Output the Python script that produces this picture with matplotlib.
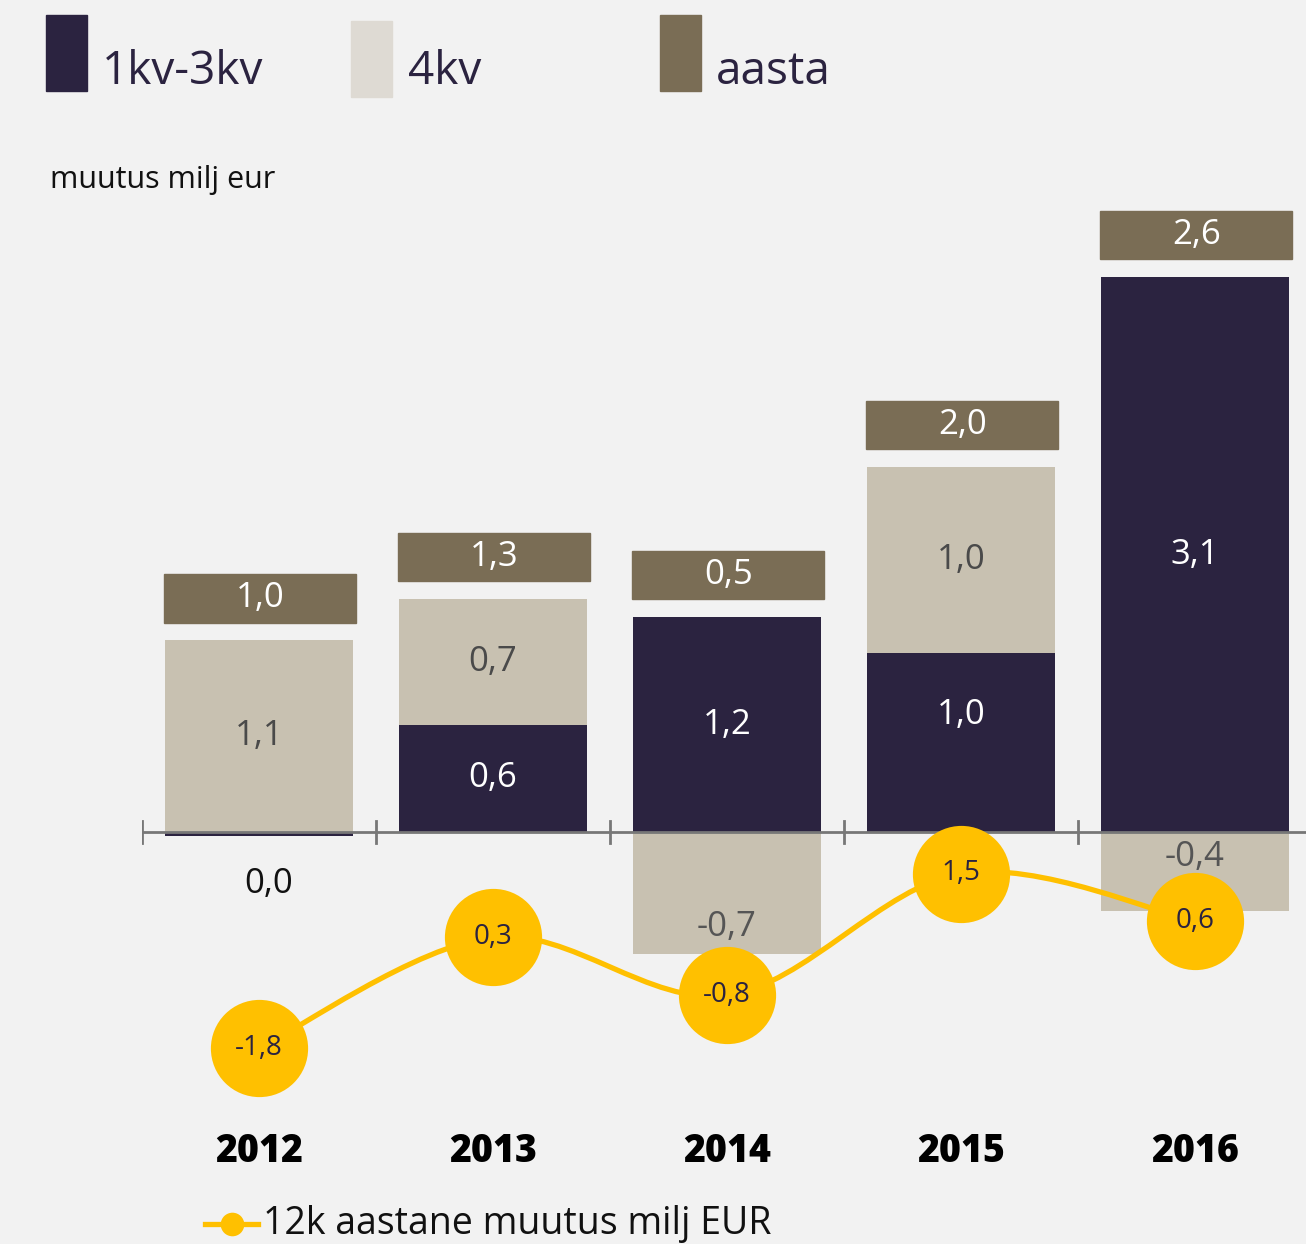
import matplotlib.pyplot as plt
from matplotlib.path import Path
from matplotlib.patches import PathPatch, Rectangle
from matplotlib.lines import Line2D

# chart data
years = ['2012', '2013', '2014', '2015', '2016']
q1_q3 = [-0.02, 0.6, 1.2, 1.0, 3.1]
q4 = [1.07, 0.7, -0.68, 1.04, -0.44]
annual = [1.0, 1.3, 0.5, 2.0, 2.6]
change_12m = [-1.8, 0.3, -0.8, 1.5, 0.6]
legend_labels = ['1kv-3kv', '4kv', 'aasta']

DARK = '#2b2340'
LIGHT = '#c8c1b1'
LIGHT_LEGEND = '#dedad3'
BROWN = '#7a6d55'
YELLOW = '#ffc000'
BG = '#f2f2f2'
AXIS = '#777777'

plt.rcParams['font.family'] = ['Open Sans', 'DejaVu Sans']

W, H = 1306, 1244
fig = plt.figure(figsize=(W / 100, H / 100), dpi=100, facecolor=BG)


def fx(px):
    return px / W


def fy(py):
    return 1 - py / H


# axes frame in pixels: x 142..1312 for categories -0.5..4.5, y 200..1100
PX = 179  # pixels per unit on the bar scale
ax = fig.add_axes([fx(142), fy(1100), fx(1312 - 142), (1100 - 200) / H])
ax.set_facecolor('none')
ax.set_xlim(-0.5, 4.5)
ax.set_ylim(-(1100 - 832) / PX, (832 - 200) / PX)
ax.axis('off')


def fmt(v):
    if round(v, 1) == 0:
        return '0,0'
    return f'{v:.1f}'.replace('.', ',')


bar_w = 0.80
x = list(range(len(years)))
q4_bottom = [d if (d > 0) == (l > 0) else 0 for d, l in zip(q1_q3, q4)]
ax.bar(x, q1_q3, width=bar_w, color=DARK, zorder=2)
ax.bar(x, q4, width=bar_w, bottom=q4_bottom, color=LIGHT, zorder=2)

# small nudges (pixels, up = positive) for a few segment labels, as in the original layout
dark_nudge = {3: 28}
light_nudge = {2: -34, 4: 14}

for i in x:
    d, l = q1_q3[i], q4[i]
    if round(d, 1) == 0:
        ax.text(i + 0.04, -0.29, fmt(d), ha='center', va='center', fontsize=25, color='#111111')
    else:
        yd = d / 2 + dark_nudge.get(i, 0) / PX
        ax.text(i, yd, fmt(d), ha='center', va='center', fontsize=25, color='white', zorder=3)
    yc = q4_bottom[i] + l / 2 + light_nudge.get(i, 0) / PX
    col = '#4a4a4a' if l > 0 else '#555555'
    ax.text(i, yc, fmt(l), ha='center', va='center', fontsize=25, color=col, zorder=3)

# annual boxes above stacks
gap, box_h = 0.1, 0.27
for i in x:
    top = max(q1_q3[i], 0) + max(q4[i], 0)
    ax.add_patch(Rectangle((i - 0.405, top + gap), 0.82, box_h, color=BROWN, zorder=2))
    ax.text(i + 0.005, top + gap + box_h / 2, fmt(annual[i]), ha='center', va='center',
            fontsize=25, color='white', zorder=3)

# zero axis with tick marks between categories
ax.plot([-0.5, 4.5], [0, 0], color=AXIS, lw=2, zorder=4, solid_capstyle='butt')
for b in [-0.5, 0.5, 1.5, 2.5, 3.5]:
    ax.plot([b, b], [-0.06, 0.06], color=AXIS, lw=2, zorder=4)

# year labels
for i, yr in enumerate(years):
    ax.text(i, -(1152 - 832) / PX, yr, ha='center', va='center', fontsize=27,
            fontweight='heavy', color='black')

# 12-month change line on secondary scale
ax2 = ax.twinx()
ax2.set_ylim(-(1100 - 953) / 53, (953 - 200) / 53)
ax2.axis('off')

# smooth curve through points (Catmull-Rom as cubic Bezier)
pts = list(zip(x, change_12m))
verts = [pts[0]]
codes = [Path.MOVETO]
for k in range(len(pts) - 1):
    p0 = pts[k - 1] if k > 0 else pts[k]
    p1, p2 = pts[k], pts[k + 1]
    p3 = pts[k + 2] if k + 2 < len(pts) else pts[k + 1]
    c1 = (p1[0] + (p2[0] - p0[0]) / 6, p1[1] + (p2[1] - p0[1]) / 6)
    c2 = (p2[0] - (p3[0] - p1[0]) / 6, p2[1] - (p3[1] - p1[1]) / 6)
    verts += [c1, c2, p2]
    codes += [Path.CURVE4] * 3
ax2.add_patch(PathPatch(Path(verts, codes), facecolor='none', edgecolor=YELLOW, lw=3.8, zorder=5))
ax2.plot(x, change_12m, 'o', ms=70, color=YELLOW, mec='none', zorder=6)
for i, v in zip(x, change_12m):
    ax2.text(i, v, fmt(v), ha='center', va='center', fontsize=20, color=DARK, zorder=7)

# top legend
legend_colors = [DARK, LIGHT_LEGEND, BROWN]
legend_boxes = [(46, 15), (351, 21), (660, 15)]
legend_text_x = [102, 408, 716]
for (lx, ly), c, tx, lab in zip(legend_boxes, legend_colors, legend_text_x, legend_labels):
    fig.patches.append(Rectangle((fx(lx), fy(ly + 76)), fx(41), 76 / H, color=c,
                                 transform=fig.transFigure, figure=fig))
    fig.text(fx(tx), fy(84), lab, fontsize=33, color=DARK, ha='left', va='baseline')

fig.text(fx(50), fy(188), 'muutus milj eur', fontsize=22, color='#111111', ha='left', va='baseline')

# bottom legend for the line
fig.add_artist(Line2D([fx(205), fx(258)], [fy(1224), fy(1224)], color=YELLOW, lw=3.8,
                      transform=fig.transFigure))
fig.add_artist(Line2D([fx(232)], [fy(1224)], marker='o', ms=17, color=YELLOW, mec='none',
                      transform=fig.transFigure))
fig.text(fx(263), fy(1234), '12k aastane muutus milj EUR', fontsize=27, color='#111111',
         ha='left', va='baseline')

fig.savefig('out.png', dpi=100, facecolor=BG)
